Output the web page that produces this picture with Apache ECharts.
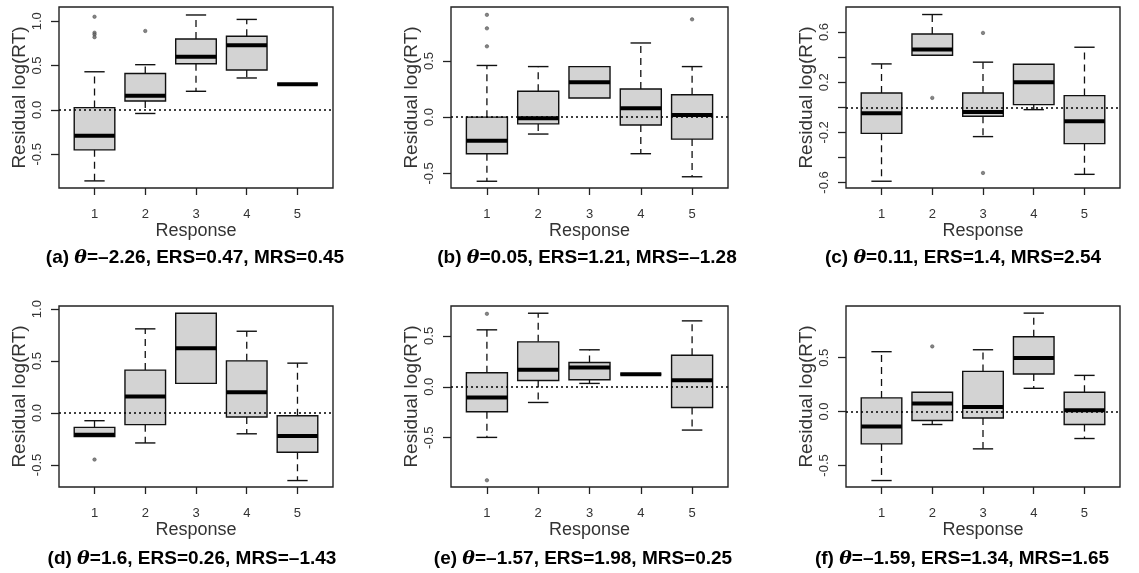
<!DOCTYPE html>
<html><head><meta charset="utf-8">
<script src="https://cdn.jsdelivr.net/npm/echarts@6/dist/echarts.min.js"></script>
<style>html,body{margin:0;padding:0;background:#fff}#c{width:1139px;height:573px}</style>
</head><body><div id="c"></div>
<script>
const categories = [1, 2, 3, 4, 5];
// each box: [min whisker, Q1, median, Q3, max whisker]
const boxesA = [[-0.80,-0.45,-0.29,0.026,0.43],[-0.04,0.10,0.16,0.41,0.51],[0.21,0.52,0.60,0.80,1.07],[0.36,0.45,0.73,0.83,1.02],[0.29,0.29,0.29,0.29,0.29]];
const outliersA = [[1,1.05],[1,0.87],[1,0.85],[1,0.82],[2,0.89]];
const boxesB = [[-0.57,-0.325,-0.21,0.0,0.46],[-0.15,-0.06,-0.01,0.23,0.45],[0.17,0.17,0.31,0.45,0.45],[-0.325,-0.07,0.08,0.25,0.66],[-0.53,-0.195,0.02,0.20,0.45]];
const outliersB = [[1,0.91],[1,0.79],[1,0.63],[5,0.87]];
const boxesC = [[-0.59,-0.208,-0.048,0.114,0.346],[0.415,0.415,0.46,0.585,0.74],[-0.234,-0.072,-0.037,0.114,0.36],[-0.019,0.021,0.20,0.343,0.343],[-0.535,-0.29,-0.112,0.093,0.479]];
const outliersC = [[2,0.075],[3,0.593],[3,-0.524]];
const boxesD = [[-0.227,-0.227,-0.208,-0.138,-0.074],[-0.288,-0.112,0.16,0.413,0.81],[0.285,0.285,0.624,0.96,0.96],[-0.20,-0.038,0.20,0.502,0.787],[-0.65,-0.377,-0.22,-0.026,0.48]];
const outliersD = [[1,-0.448]];
const boxesE = [[-0.497,-0.245,-0.105,0.137,0.559],[-0.154,0.062,0.167,0.441,0.722],[0.033,0.069,0.19,0.239,0.363],[0.124,0.124,0.124,0.124,0.124],[-0.425,-0.203,0.065,0.31,0.647]];
const outliersE = [[1,0.716],[1,-0.918]];
const boxesF = [[-0.64,-0.30,-0.139,0.127,0.556],[-0.12,-0.083,0.074,0.179,0.179],[-0.346,-0.059,0.043,0.373,0.574],[0.216,0.349,0.497,0.694,0.914],[-0.25,-0.12,0.012,0.179,0.336]];
const outliersF = [[2,0.605]];

const yTicksA = [-0.5, 0, 0.5, 1.0], yLabelsA = [-0.5, 0, 0.5, 1.0];
const yTicksB = [-0.5, 0, 0.5], yLabelsB = [-0.5, 0, 0.5];
const yTicksC = [-0.6, -0.4, -0.2, 0, 0.2, 0.4, 0.6], yLabelsC = [-0.6, -0.2, 0.2, 0.6];
const yTicksD = [-0.5, 0, 0.5, 1.0], yLabelsD = [-0.5, 0, 0.5, 1.0];
const yTicksE = [-0.5, 0, 0.5], yLabelsE = [-0.5, 0, 0.5];
const yTicksF = [-0.5, 0, 0.5], yLabelsF = [-0.5, 0, 0.5];

const captionLabels = ['(a) ', '(b) ', '(c) ', '(d) ', '(e) ', '(f) '];
const captionRest = ['=\u20132.26, ERS=0.47, MRS=0.45', '=0.05, ERS=1.21, MRS=\u20131.28', '=0.11, ERS=1.4, MRS=2.54',
                     '=1.6, ERS=0.26, MRS=\u20131.43', '=\u20131.57, ERS=1.98, MRS=0.25', '=\u20131.59, ERS=1.34, MRS=1.65'];
const xTitle = 'Response';
const yTitle = 'Residual log(RT)';

const panels = [
  {boxes: boxesA, out: outliersA, ticks: yTicksA, labels: yLabelsA},
  {boxes: boxesB, out: outliersB, ticks: yTicksB, labels: yLabelsB},
  {boxes: boxesC, out: outliersC, ticks: yTicksC, labels: yLabelsC},
  {boxes: boxesD, out: outliersD, ticks: yTicksD, labels: yLabelsD},
  {boxes: boxesE, out: outliersE, ticks: yTicksE, labels: yLabelsE},
  {boxes: boxesF, out: outliersF, ticks: yTicksF, labels: yLabelsF}
];
// layout (pixels) and axis ranges
const layout = [
  {left: 59, top: 7, width: 274, height: 181, ymin: -0.88, ymax: 1.16, cx: 195, cy: 258},
  {left: 451, top: 7, width: 277, height: 181, ymin: -0.63, ymax: 0.98, cx: 587, cy: 258},
  {left: 846, top: 7, width: 274, height: 181, ymin: -0.644, ymax: 0.80, cx: 963, cy: 258},
  {left: 59, top: 306, width: 274, height: 181, ymin: -0.712, ymax: 1.03, cx: 192, cy: 559},
  {left: 451, top: 306, width: 277, height: 181, ymin: -0.984, ymax: 0.793, cx: 583, cy: 559},
  {left: 846, top: 306, width: 274, height: 181, ymin: -0.70, ymax: 0.98, cx: 962, cy: 559}
];
const BOX_WIDTH = 0.8;
const FONT = '"Liberation Sans", Arial, sans-serif';

function renderBox(params, api) {
  const x = api.value(0);
  const v = [1, 2, 3, 4, 5].map(d => api.value(d));
  const p = v.map(val => api.coord([x, val]));
  const bw = api.size([BOX_WIDTH, 0])[0];
  const cx = p[0][0], half = bw / 2, cap = bw / 4;
  const solid = {stroke: '#111', lineWidth: 1.4, fill: null};
  const dash = {stroke: '#111', lineWidth: 1.3, lineDash: [7, 5], fill: null};
  const ch = [];
  if (v[4] > v[3]) {
    ch.push({type: 'line', shape: {x1: cx, y1: p[3][1], x2: cx, y2: p[4][1]}, style: dash});
    ch.push({type: 'line', shape: {x1: cx - cap, y1: p[4][1], x2: cx + cap, y2: p[4][1]}, style: solid});
  }
  if (v[0] < v[1]) {
    ch.push({type: 'line', shape: {x1: cx, y1: p[1][1], x2: cx, y2: p[0][1]}, style: dash});
    ch.push({type: 'line', shape: {x1: cx - cap, y1: p[0][1], x2: cx + cap, y2: p[0][1]}, style: solid});
  }
  ch.push({type: 'rect', shape: {x: cx - half, y: p[3][1], width: bw, height: p[1][1] - p[3][1]},
           style: {fill: '#d3d3d3', stroke: '#111', lineWidth: 1.4}});
  ch.push({type: 'line', shape: {x1: cx - half, y1: p[2][1], x2: cx + half, y2: p[2][1]},
           style: {stroke: '#000', lineWidth: 4}});
  return {type: 'group', children: ch};
}

const grid = [], xAxis = [], yAxis = [], series = [], graphic = [];
panels.forEach((pn, i) => {
  const L = layout[i];
  grid.push({left: L.left, top: L.top, width: L.width, height: L.height, show: true,
             borderColor: '#222', borderWidth: 1.4, backgroundColor: 'transparent', containLabel: false});
  xAxis.push({type: 'value', gridIndex: i, min: 0.3, max: 5.7,
    name: xTitle, nameLocation: 'middle', nameGap: 33,
    nameTextStyle: {fontSize: 18, color: '#333', fontFamily: FONT},
    axisLine: {show: false, onZero: false}, splitLine: {show: false},
    axisTick: {show: true, length: 7, customValues: categories, lineStyle: {color: '#222', width: 1.3}},
    axisLabel: {customValues: categories, margin: 20, fontSize: 13, color: '#333', fontFamily: FONT}
  });
  yAxis.push({type: 'value', gridIndex: i, min: L.ymin, max: L.ymax,
    name: yTitle, nameLocation: 'middle', nameGap: 30,
    nameTextStyle: {fontSize: 19, color: '#333', fontFamily: FONT},
    axisLine: {show: false, onZero: false}, splitLine: {show: false},
    axisTick: {show: true, length: 8, customValues: pn.ticks, lineStyle: {color: '#222', width: 1.3}},
    axisLabel: {customValues: pn.labels, rotate: 90, margin: 15, fontSize: 13, color: '#333', fontFamily: FONT,
                formatter: v => Number(v).toFixed(1)}
  });
  series.push({type: 'custom', xAxisIndex: i, yAxisIndex: i, z: 2, clip: false,
    data: pn.boxes.map((b, k) => [categories[k]].concat(b)),
    encode: {x: 0, y: [1, 2, 3, 4, 5]}, renderItem: renderBox});
  series.push({type: 'scatter', xAxisIndex: i, yAxisIndex: i, z: 3, data: pn.out,
    symbol: 'circle', symbolSize: 3.5, itemStyle: {color: '#666', borderColor: '#444', borderWidth: 0.6},
    markLine: {silent: true, symbol: 'none', label: {show: false}, z: 5,
      lineStyle: {color: '#000', type: [2, 3], width: 1.5}, data: [{yAxis: 0}]}});
  graphic.push({type: 'text', x: L.cx, y: L.cy, style: {
    text: '{n|' + captionLabels[i] + '}{t|\u03b8}{n|' + captionRest[i] + '}',
    align: 'center', verticalAlign: 'middle',
    rich: {n: {fontSize: 19, fontWeight: 'bold', fontFamily: FONT, fill: '#000', color: '#000'},
           t: {fontSize: 19, fontStyle: 'italic', fontWeight: 'bold', fontFamily: '"DejaVu Serif", serif', fill: '#000', color: '#000'}}
  }});
});

const chart = echarts.init(document.getElementById('c'), null, {renderer: 'canvas'});
chart.setOption({animation: false, backgroundColor: '#fff', grid, xAxis, yAxis, series, graphic});
</script>
</body></html>
